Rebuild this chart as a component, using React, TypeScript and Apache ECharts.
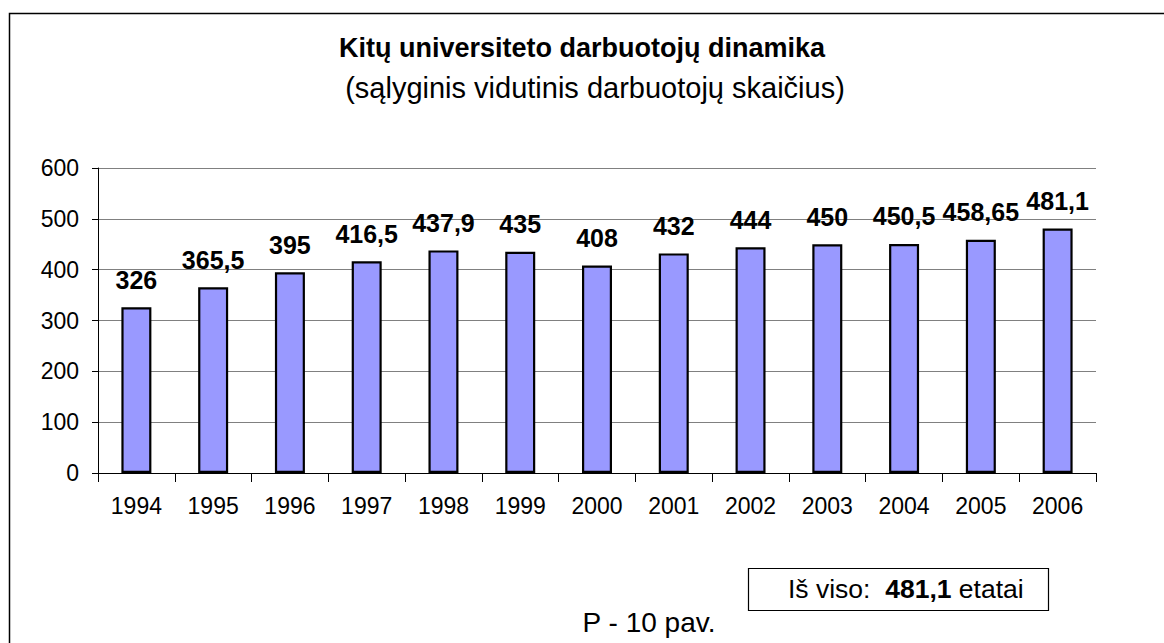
import React, { useEffect, useRef } from "react";
import * as echarts from "echarts";

const years = ["1994", "1995", "1996", "1997", "1998", "1999", "2000", "2001", "2002", "2003", "2004", "2005", "2006"];
const staff = [326, 365.5, 395, 416.5, 437.9, 435, 408, 432, 444, 450, 450.5, 458.65, 481.1];
const yTicks = { min: 0, max: 600, interval: 100 };
const titleText = "Kitų universiteto darbuotojų dinamika";
const subtitleText = "(sąlyginis vidutinis darbuotojų skaičius)";
const totalValue = "481,1";
const figureLabel = "P - 10 pav.";

const FONT = "'Liberation Sans', Arial, sans-serif";

export default function App() {
  const ref = useRef<HTMLDivElement>(null);
  useEffect(() => {
    if (!ref.current) return;
    const chart = echarts.init(ref.current, null, { renderer: "svg" });
    chart.setOption({
      animation: false,
      backgroundColor: "#ffffff",
      textStyle: { fontFamily: FONT },
      grid: { left: 98, top: 168, right: 68, bottom: 170, containLabel: false },
      xAxis: {
        type: "category",
        data: years,
        axisLine: { lineStyle: { color: "#000", width: 1 } },
        axisTick: { show: true, length: 9, lineStyle: { color: "#000" } },
        axisLabel: { color: "#000", fontSize: 23, fontFamily: FONT, margin: 21 },
      },
      yAxis: {
        type: "value",
        min: yTicks.min,
        max: yTicks.max,
        interval: yTicks.interval,
        axisLine: { show: true, lineStyle: { color: "#000", width: 1 } },
        axisTick: { show: true, length: 6, lineStyle: { color: "#000" } },
        axisLabel: { color: "#000", fontSize: 23, fontFamily: FONT, margin: 19 },
        splitLine: { show: true, lineStyle: { color: "#808080", width: 1 } },
      },
      series: [
        {
          type: "bar",
          data: staff,
          barWidth: 30,
          itemStyle: { color: "#9999ff", borderColor: "#000", borderWidth: 2.2 },
          label: {
            show: true,
            position: "top",
            distance: 15,
            color: "#000",
            fontWeight: "bold",
            fontSize: 25,
            fontFamily: FONT,
            formatter: (p: any) => String(p.value).replace(".", ","),
          },
        },
      ],
      graphic: [
        {
          type: "rect",
          shape: { x: 9.5, y: 13.5, width: 1300, height: 800 },
          style: { fill: "none", stroke: "#000", lineWidth: 1.5 },
          silent: true,
          z: -1,
        },
        {
          type: "text",
          x: 582,
          y: 48,
          style: {
            text: titleText,
            fill: "#000",
            fontSize: 27,
            fontWeight: "bold",
            fontFamily: FONT,
            textAlign: "center",
            textVerticalAlign: "middle",
          },
        },
        {
          type: "text",
          x: 595,
          y: 88,
          style: {
            text: subtitleText,
            fill: "#000",
            fontSize: 29,
            fontFamily: FONT,
            textAlign: "center",
            textVerticalAlign: "middle",
          },
        },
        {
          type: "rect",
          shape: { x: 748.5, y: 568.5, width: 300, height: 42 },
          style: { fill: "#fff", stroke: "#000", lineWidth: 1.2 },
        },
        {
          type: "text",
          x: 788,
          y: 589,
          style: {
            rich: {
              n: { fontSize: 26.5, fontFamily: FONT, fill: "#000" },
              b: { fontSize: 26.5, fontFamily: FONT, fontWeight: "bold", fill: "#000" },
            },
            text: `{n|Iš viso:  }{b|${totalValue}}{n| etatai}`,
            textAlign: "left",
            textVerticalAlign: "middle",
          } as any,
        },
        {
          type: "text",
          x: 649,
          y: 622,
          style: {
            text: figureLabel,
            fill: "#000",
            fontSize: 28,
            fontFamily: FONT,
            textAlign: "center",
            textVerticalAlign: "middle",
          },
        },
      ],
    });
    return () => chart.dispose();
  }, []);
  return (
    <div
      ref={ref}
      style={{ position: "fixed", left: 0, top: 0, width: 1164, height: 643 }}
    />
  );
}
